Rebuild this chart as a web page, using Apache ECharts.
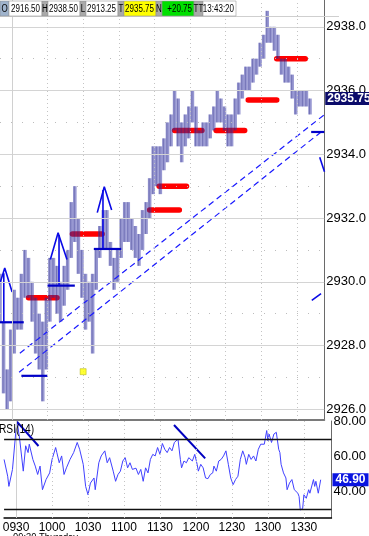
<!DOCTYPE html>
<html><head><meta charset="utf-8">
<script src="https://cdn.jsdelivr.net/npm/echarts@6/dist/echarts.min.js"></script>
<style>html,body{margin:0;padding:0;background:#fff}#c{width:369px;height:536px}</style>
</head><body><div id="c"></div>
<script>
// ---------- DATA ----------
// 3-minute bars, time = minutes since midnight
const barTimes = [560,563,566,569,572,575,578,581,584,587,590,593,596,599,602,605,608,611,614,617,620,623,626,629,632,635,638,641,644,647,650,653,656,659,662,665,668,671,674,677,680,683,686,689,692,695,698,701,704,707,710,713,716,719,722,725,728,731,734,737,740,743,746,749,752,755,758,761,764,767,770,773,776,779,782,785,788,791,794,797,800,803,806,809,812,815,818,821];
const barHigh = [2930.25,2928.75,2927.25,2928.5,2929.75,2929.5,2930.25,2931.0,2930.75,2930.0,
 2929.5,2929.0,2928.75,2929.5,2930.75,2930.75,2930.5,2930.0,2930.5,2931.0,
 2932.5,2933.0,2932.0,2931.0,2930.25,2930.0,2930.25,2931.0,2931.75,2932.25,
 2932.25,2931.25,2930.75,2931.0,2932.0,2932.5,2932.5,2932.0,2931.75,2931.5,
 2932.25,2932.5,2933.25,2934.25,2934.25,2934.25,2934.5,2935.0,2935.25,2936.0,
 2935.75,2935.0,2935.25,2935.5,2936.0,2935.5,2934.75,2935.0,2935.0,2935.25,
 2935.5,2936.0,2935.75,2935.5,2935.25,2935.25,2935.75,2936.25,2936.5,2936.75,
 2936.75,2937.0,2937.0,2937.5,2937.75,2938.5,2938.0,2938.0,2937.75,2937.0,
 2937.0,2936.75,2936.5,2936.0,2936.0,2936.0,2936.0,2935.75];
const barLow = [2928.75,2926.5,2926.0,2926.25,2927.75,2928.5,2928.5,2929.5,2929.5,2928.75,
 2927.75,2927.25,2926.25,2927.25,2928.75,2929.5,2929.0,2928.75,2929.25,2929.75,
 2930.75,2931.25,2930.25,2929.5,2928.5,2928.75,2927.75,2929.75,2930.75,2931.0,
 2931.0,2930.5,2929.75,2930.0,2930.75,2931.25,2931.25,2931.0,2930.75,2930.5,
 2931.0,2931.5,2932.0,2932.75,2933.0,2932.75,2933.5,2933.75,2934.25,2934.75,
 2934.25,2933.75,2934.25,2934.5,2935.0,2934.25,2934.25,2934.25,2934.25,2934.5,
 2934.75,2935.0,2935.0,2934.75,2934.25,2934.25,2934.75,2935.25,2935.75,2936.0,
 2936.0,2936.25,2936.5,2936.75,2937.0,2937.5,2937.5,2937.25,2937.0,2936.5,
 2936.25,2936.25,2935.75,2935.25,2935.5,2935.5,2935.5,2935.25];
const lastPrice = 2935.75;

const rsiTimes = [560,563,564,567,570,571,573,576,578,580,581,584,586,588,590,592,595,598,600,603,
 604,606,608,610,612,615,618,621,623,626,628,630,632,635,636,639,641,644,646,648,
 651,653,655,657,659,661,663,665,667,670,672,674,676,678,680,682,684,686,688,690,
 692,694,696,698,700,702,705,707,708,710,712,714,717,719,721,722,724,726,728,730,
 732,734,735,737,739,741,743,745,747,749,751,753,755,757,759,761,762,764,766,768,
 770,772,774,777,779,780,781,783,785,787,789,790,791,793,795,796,798,800,802,803,
 805,806,807,809,810,812,814,815,818,819,820,822,824];
const rsiValues = [58.5,48.9,43.1,52.8,75.9,79.8,70.1,51.8,66.3,62.4,67.2,58.5,54.7,49.9,54.7,41.2,47.0,50.8,58.5,65.3,
 62.4,56.6,60.5,49.9,53.7,58.5,62.4,68.2,64.3,55.7,43.1,38.3,45.0,47.9,41.2,56.6,60.5,63.4,56.6,59.5,
 51.8,46.0,49.9,51.8,57.6,59.5,53.7,56.6,52.8,53.5,49.9,52.8,46.0,53.7,50.8,58.5,61.4,60.5,65.3,61.4,
 67.6,64.3,62.4,65.3,63.4,68.2,70.1,58.5,53.7,57.6,56.6,59.5,57.6,61.4,55.7,51.8,55.7,53.7,47.9,47.5,
 49.9,50.8,54.7,51.8,57.6,58.5,60.5,63.4,55.7,47.9,44.1,47.0,48.9,58.5,63.4,59.5,55.7,61.4,58.5,60.5,
 57.6,64.3,67.2,67.2,75.0,69.2,73.0,68.2,73.0,74.0,64.3,62.4,55.7,50.8,47.9,41.2,45.0,47.0,41.2,42.1,
 39.2,37.3,29.6,30.5,38.3,36.3,41.2,39.2,47.0,43.1,46.0,39.2,46.9];
const lastRsi = 46.90;
const rsiBands = [70, 30];

// drawn annotations: [startTime, endTime, price]
const redLines = [[584,608,2929.5],[621,646,2931.5],[686,711,2932.25],[694,717,2933.0],[707,730,2934.75],[742,766,2934.75],[769,793,2935.7],[793,817,2937.0]];
const blueHLines = [[560,580,2928.73],[600,623,2929.88],[578,600,2927.05],[639,662,2931.03],[822,833,2934.70]];
const bluePolylines = [
 [[560,2929.96],[564.0,2930.43],[570.2,2929.68]],
 [[563.2,2930.27],[563.2,2928.73]],
 [[602.4,2930.70],[608.9,2931.54],[616.4,2930.70]],
 [[609.7,2931.47],[609.7,2929.88]],
 [[641.9,2932.17],[647.8,2932.98],[654.0,2932.25]],
 [[646.7,2932.88],[646.7,2931.06]],
 [[829.2,2933.91],[833.2,2933.45]],
 [[822.5,2929.42],[830.3,2929.63]]
];
const channelLines = [[[576.7,2927.76],[833,2935.24]],[[576.1,2927.16],[833,2934.78]]];
const yellowMarks = [[630,2927.18]];
const rsiTrendLines = [[[570.7,80.06],[588.7,66.17]],[[701.7,78.17],[727.7,59.14]]];

// axis ticks
const priceTicks = [2926,2928,2930,2932,2934,2936,2938];
const priceMinorTicks = [2927,2929,2931,2933,2935,2937];
const timeTicks = [570,600,630,660,690,720,750,780,810];
const rsiTicks = [40,60,80];

// header
const hdrLabels = ['O','H','L','T','N','TT'];
const hdrValues = ['2916.50','2938.50','2913.25','2935.75','+20.75','13:43:20'];
const footerText = '09:30 Thursday';
const rsiTitle = 'RSI(14)';

// ---------- CHART ----------
const FONT = "'Liberation Sans',Arial,sans-serif";
const hhmm = m => String(Math.floor(m/60)).padStart(2,'0') + String(Math.round(m%60)).padStart(2,'0');
const chart = echarts.init(document.getElementById('c'), null, {renderer:'canvas'});

const hdrLayout = [[0,9,9,33],[42,6,48,32],[80,6,86,32],[118,6,124,32],[156,6,162,32],[194,9,203,33]];
const hdrBg = ['#ffffff','#ffffff','#ffffff','#ffff00','#00e000','#ffffff'];
const graphic = [];
graphic.push({type:'line', shape:{x1:0,y1:16.5,x2:339,y2:16.5}, style:{stroke:'#cfcfcf', lineWidth:1}, z:50});
hdrLabels.forEach((lab,i)=>{
  const [lx,lw,vx,vw] = hdrLayout[i];
  graphic.push({type:'rect', shape:{x:lx,y:1,width:lw,height:15}, style:{fill: i===0?'#9fb3cc':'#a9a9a9', stroke:'#8a8a8a', lineWidth:0.5}, z:51});
  graphic.push({type:'text', x:lx+lw/2, y:9, scaleX:0.8, style:{text:lab, font:"10px "+FONT, fill:'#000', align:'center', verticalAlign:'middle'}, z:52});
  graphic.push({type:'rect', shape:{x:vx,y:1,width:vw,height:15}, style:{fill:hdrBg[i], stroke:'#9a9a9a', lineWidth:0.6}, z:51});
  graphic.push({type:'text', x:vx+vw-2, y:9, scaleX:0.8, style:{text:hdrValues[i], font:"10px "+FONT, fill:'#000', align:'right', verticalAlign:'middle'}, z:52});
});
graphic.push({type:'text', x:-1, y:430, scaleX:0.85, style:{text:rsiTitle, font:"12px "+FONT, fill:'#000', verticalAlign:'middle'}, z:60});
graphic.push({type:'text', x:13, y:532, scaleX:0.85, style:{text:footerText, font:"11px "+FONT, fill:'#000', verticalAlign:'top'}, z:60});

const series = [];
// main grid lines
series.push({
  type:'line', xAxisIndex:0, yAxisIndex:0, data:[], silent:true, z:1,
  markLine:{symbol:['none','none'], silent:true, animation:false, label:{show:false},
    data:[
      ...priceTicks.map(v=>({yAxis:v, lineStyle:{color:'#d4d4d4', type:'solid', width:1}})),
      ...priceMinorTicks.map(v=>({yAxis:v, lineStyle:{color:'#bcbcbc', type:[1,10], width:1}})),
      {xAxis:timeTicks[0], lineStyle:{color:'#d0d0d0', type:'solid', width:1}},
      ...timeTicks.slice(1).map(v=>({xAxis:v, lineStyle:{color:'#c4c4c4', type:[1,3], width:1}}))
    ]}
});
// rsi grid lines and bands
series.push({
  type:'line', xAxisIndex:1, yAxisIndex:1, data:[], silent:true, z:1,
  markLine:{symbol:['none','none'], silent:true, animation:false, label:{show:false},
    data:[
      {xAxis:timeTicks[0], lineStyle:{color:'#d0d0d0', type:'solid', width:1}},
      ...timeTicks.slice(1).map(v=>({xAxis:v, lineStyle:{color:'#c4c4c4', type:[1,3], width:1}})),
      ...rsiBands.map(v=>({yAxis:v, lineStyle:{color:'#111', type:'solid', width:1.4}}))
    ]}
});
// red lines
redLines.forEach(r=>series.push({type:'line', xAxisIndex:0, yAxisIndex:0, symbol:'none', silent:true, z:2,
  data:[[r[0],r[2]],[r[1],r[2]]], lineStyle:{color:'#ff0000', width:5.5, cap:'round'}}));
// price bars
series.push({
  type:'custom', xAxisIndex:0, yAxisIndex:0, z:3, silent:true,
  data: barTimes.map((t,i)=>[t, barHigh[i], barLow[i]]),
  encode:{x:0, y:[1,2]},
  renderItem:(params, api)=>{
    const t = api.value(0);
    const hi = api.coord([t, api.value(1)]);
    const lo = api.coord([t, api.value(2)]);
    const w = api.size([3,0])[0];
    return {type:'group', children:[
      {type:'rect', shape:{x:hi[0]-w/2, y:hi[1], width:w, height:Math.max(1, lo[1]-hi[1])}, style:{fill:'rgba(50,50,165,0.5)'}},
      {type:'line', shape:{x1:hi[0]-0.5, y1:hi[1], x2:hi[0]-0.5, y2:lo[1]}, style:{stroke:'rgba(30,30,120,0.3)', lineWidth:1}}
    ]};
  }
});
// channel lines
channelLines.forEach(c=>series.push({type:'line', xAxisIndex:0, yAxisIndex:0, symbol:'none', silent:true, z:4,
  data:c, lineStyle:{color:'#1a1aff', width:1.2, type:[6,4]}}));
// blue horizontal lines
blueHLines.forEach(h=>series.push({type:'line', xAxisIndex:0, yAxisIndex:0, symbol:'none', silent:true, z:4,
  data:[[h[0],h[2]],[h[1],h[2]]], lineStyle:{color:'#0000c8', width:2.2}}));
// blue polylines (arrows, stems)
bluePolylines.forEach(p=>series.push({type:'line', xAxisIndex:0, yAxisIndex:0, symbol:'none', silent:true, z:4,
  data:p, lineStyle:{color:'#0a0ae6', width:1.6}}));
// yellow marker
series.push({type:'scatter', xAxisIndex:0, yAxisIndex:0, silent:true, z:5, symbol:'rect', symbolSize:6,
  data:yellowMarks, itemStyle:{color:'#ffff00', borderColor:'#a8a800', borderWidth:0.6}});
// last price label
series.push({type:'line', xAxisIndex:0, yAxisIndex:0, data:[], silent:true, z:20, clip:false,
  markLine:{symbol:['none','none'], silent:true, animation:false,
    data:[{yAxis:lastPrice, lineStyle:{color:'#0b0b6a', width:0.01}, label:{show:true, position:'end', distance:1, formatter:lastPrice.toFixed(2),
      backgroundColor:'#0b0b6a', color:'#fff', fontWeight:'bold', fontSize:12, fontFamily:FONT, padding:[1,2,0,2]}}]}});
// RSI line
series.push({type:'line', xAxisIndex:1, yAxisIndex:1, symbol:'none', silent:true, z:3,
  data: rsiTimes.map((t,i)=>[t, rsiValues[i]]), lineStyle:{color:'#4040ff', width:1}});
// RSI trend lines
rsiTrendLines.forEach(c=>series.push({type:'line', xAxisIndex:1, yAxisIndex:1, symbol:'none', silent:true, z:4,
  data:c, lineStyle:{color:'#0000c0', width:2}}));
// RSI last label
series.push({type:'line', xAxisIndex:1, yAxisIndex:1, data:[], silent:true, z:20, clip:false,
  markLine:{symbol:['none','none'], silent:true, animation:false,
    data:[{yAxis:lastRsi, lineStyle:{color:'#0a14e0', width:0.01}, label:{show:true, position:'end', distance:1, formatter:lastRsi.toFixed(2),
      backgroundColor:'#0a14e0', color:'#fff', fontWeight:'bold', fontSize:12, fontFamily:FONT, padding:[1,3,0,3]}}]}});

const option = {
  animation:false,
  backgroundColor:'#ffffff',
  grid:[{left:0, right:30, top:0, height:420}, {left:0, right:30, top:421, height:97}],
  xAxis:[
    {gridIndex:0, type:'value', min:560, max:833, axisLine:{show:true, onZero:false, lineStyle:{color:'#7a7a7a', width:2}},
      axisTick:{show:false}, axisLabel:{show:false}, splitLine:{show:false}},
    {gridIndex:1, type:'value', min:560, max:833, axisLine:{show:true, onZero:false, lineStyle:{color:'#000', width:1.5}},
      axisTick:{show:false}, splitLine:{show:false},
      axisLabel:{customValues:timeTicks, formatter:v=>hhmm(v), fontSize:12, fontFamily:FONT, color:'#000', margin:4}}
  ],
  yAxis:[
    {gridIndex:0, type:'value', position:'right', min:2925.664, max:2938.841,
      axisLine:{show:true, onZero:false, lineStyle:{color:'#6a6a6a', width:1}}, axisTick:{show:false}, splitLine:{show:false},
      axisLabel:{customValues:priceTicks, formatter:v=>v.toFixed(1), fontSize:13, fontFamily:FONT, color:'#000', margin:2, padding:[6,0,0,0]}},
    {gridIndex:1, type:'value', position:'right', min:25.03, max:80.46,
      axisLine:{show:true, onZero:false, lineStyle:{color:'#6a6a6a', width:1}}, axisTick:{show:false}, splitLine:{show:false},
      axisLabel:{customValues:rsiTicks, formatter:v=>v.toFixed(2), fontSize:13, fontFamily:FONT, color:'#000', margin:2, padding:[3,0,0,0]}}
  ],
  graphic: graphic,
  series: series
};
chart.setOption(option);
</script></body></html>
